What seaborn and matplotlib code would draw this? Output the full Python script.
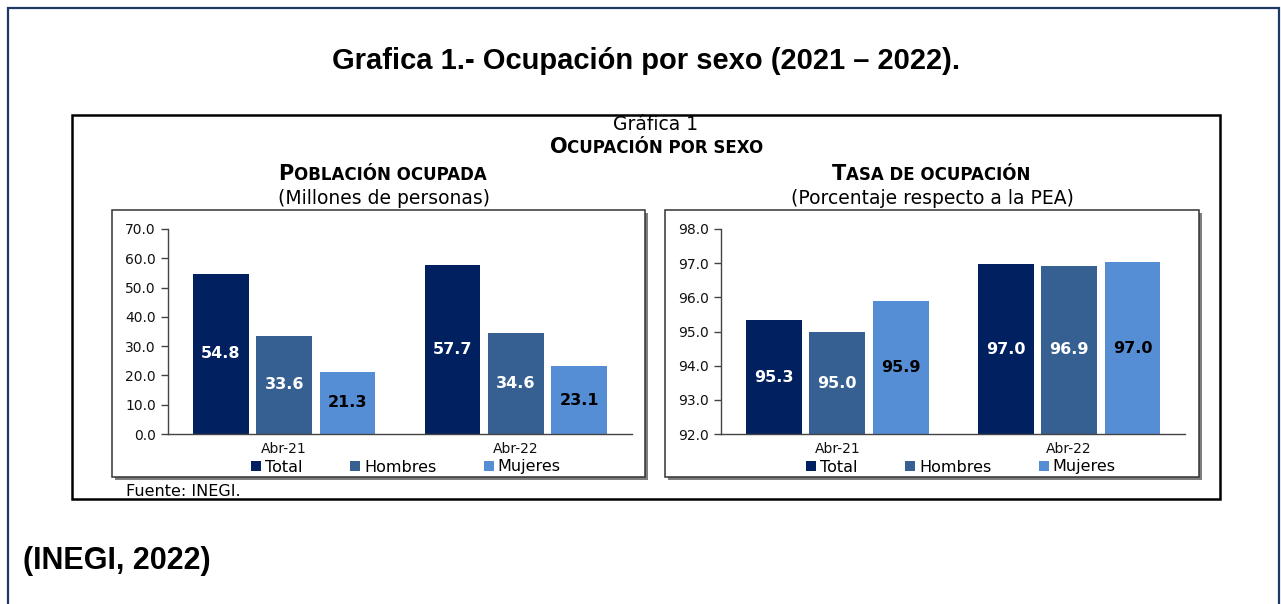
import pandas as pd
import matplotlib.pyplot as plt
import seaborn as sns
from matplotlib.patches import Rectangle

# Data
periods = ["Abr-21", "Abr-22"]
series = ["Total", "Hombres", "Mujeres"]

# Población ocupada (millones de personas)
ocupada_total = [54.8, 57.7]
ocupada_hombres = [33.6, 34.6]
ocupada_mujeres = [21.3, 23.1]

# Tasa de ocupación (% de la PEA)
tasa_total = [95.33, 96.97]
tasa_hombres = [94.98, 96.93]
tasa_mujeres = [95.88, 97.03]

colors = ["#002060", "#376092", "#558ED5"]
label_colors = ["white", "white", "black"]

W, H = 1281, 604

sns.set_style("white")
plt.rcParams["font.family"] = ["DejaVu Sans"]
plt.rcParams["text.color"] = "black"

fig = plt.figure(figsize=(W / 100, H / 100), dpi=100)
fig.patch.set_facecolor("white")


def px_box(x0, y0, x1, y1):
    return [x0 / W, 1 - y1 / H, (x1 - x0) / W, (y1 - y0) / H]


def to_long(vals):
    rows = []
    for name, v in zip(series, vals):
        for p, val in zip(periods, v):
            rows.append({"Periodo": p, "Serie": name, "Valor": val})
    return pd.DataFrame(rows)


def small_caps(xc, y_base, first, rest, big, small):
    t1 = fig.text(0, 1 - y_base / H, first, fontsize=big, fontweight="bold",
                  va="baseline", ha="left", color="black")
    t2 = fig.text(0, 1 - y_base / H, rest, fontsize=small, fontweight="bold",
                  va="baseline", ha="left", color="black")
    r = fig.canvas.get_renderer()
    w1 = t1.get_window_extent(r).width
    w2 = t2.get_window_extent(r).width
    left = xc - (w1 + w2) / 2
    t1.set_x(left / W)
    t2.set_x((left + w1) / W)


def draw_panel(ax, df, ylim, step, legend_x):
    sns.barplot(data=df, x="Periodo", y="Valor", hue="Serie", palette=colors,
                width=0.82, gap=0.12, ax=ax, edgecolor="none", saturation=1)
    handles, labels = ax.get_legend_handles_labels()
    if ax.get_legend() is not None:
        ax.get_legend().remove()
    ax.set_ylim(*ylim)
    ax.set_xlim(-0.5, 1.5)
    yt = [ylim[0] + i * step for i in range(int(round((ylim[1] - ylim[0]) / step)) + 1)]
    ax.set_yticks(yt)
    ax.set_yticklabels([f"{v:.1f}" for v in yt])
    ax.set_xticks([0, 1])
    ax.set_xticks([-0.5, 0.5, 1.5], minor=True)
    ax.set_xlabel("")
    ax.set_ylabel("")
    ax.tick_params(axis="x", which="major", length=0, pad=6, labelsize=10, labelcolor="#111111")
    ax.tick_params(axis="x", which="minor", length=8, direction="inout", width=1.2, color="#444444")
    ax.tick_params(axis="y", length=5, direction="out", width=1, color="#444444",
                   pad=4, labelsize=10, labelcolor="#111111", left=True)
    for s in ["top", "right"]:
        ax.spines[s].set_visible(False)
    for s in ["left", "bottom"]:
        ax.spines[s].set_color("#444444")
        ax.spines[s].set_linewidth(1.0)

    lo = ylim[0]
    for container, c in zip(ax.containers, label_colors):
        for bar in container:
            h = bar.get_height()
            ax.text(bar.get_x() + bar.get_width() / 2, (lo + h) / 2, f"{h:.1f}",
                    ha="center", va="center", color=c, fontsize=11.5, fontweight="bold")

    fig.legend(handles, labels, loc="center", bbox_to_anchor=(legend_x / W, 1 - 467 / H),
               ncol=3, frameon=False, fontsize=11.5, handlelength=0.6, handleheight=0.6,
               handletextpad=0.25, columnspacing=3.0, borderpad=0, labelcolor="black")


# frames
fig.patches.append(Rectangle((8 / W, -0.1), (1279 - 8) / W, 1.1 - 8 / H, transform=fig.transFigure,
                             fill=False, edgecolor="#1F3864", linewidth=1.6, zorder=-2))
fig.patches.append(Rectangle((72 / W, 1 - 499 / H), (1220 - 72) / W, (499 - 115) / H,
                             transform=fig.transFigure, fill=False, edgecolor="black",
                             linewidth=1.8, zorder=-2))
for x0, x1 in [(112, 645), (665, 1199)]:
    fig.patches.append(Rectangle(((x0 + 3) / W, 1 - (477 + 3) / H), (x1 - x0) / W, (477 - 210) / H,
                                 transform=fig.transFigure, facecolor="#7f7f7f",
                                 edgecolor="none", zorder=-1.5))
    fig.patches.append(Rectangle((x0 / W, 1 - 477 / H), (x1 - x0) / W, (477 - 210) / H,
                                 transform=fig.transFigure, facecolor="white",
                                 edgecolor="#333333", linewidth=1.1, zorder=-1))

ax1 = fig.add_axes(px_box(168.3, 229, 631.7, 434))
ax2 = fig.add_axes(px_box(721.4, 229, 1185, 434))
ax1.patch.set_alpha(0)
ax2.patch.set_alpha(0)

draw_panel(ax1, to_long([ocupada_total, ocupada_hombres, ocupada_mujeres]), (0, 70), 10, 406)
draw_panel(ax2, to_long([tasa_total, tasa_hombres, tasa_mujeres]), (92, 98), 1, 961)

# titles
fig.text(646 / W, 1 - 69 / H, "Grafica 1.- Ocupación por sexo (2021 – 2022).",
         family="Liberation Sans", fontsize=21, fontweight="bold", ha="center", va="baseline",
         color="black")
fig.text(23 / W, 1 - 569 / H, "(INEGI, 2022)", family="Liberation Sans", fontsize=22,
         fontweight="bold", ha="left", va="baseline", color="black")

fig.text(656 / W, 1 - 130.5 / H, "Gráfica 1", fontsize=13.5, ha="center", va="baseline")
small_caps(656.5, 153, "O", "CUPACIÓN POR SEXO", 15, 12)
small_caps(382.3, 180.5, "P", "OBLACIÓN OCUPADA", 15, 12)
small_caps(931, 180.5, "T", "ASA DE OCUPACIÓN", 15, 12)
fig.text(383.5 / W, 1 - 204 / H, "(Millones de personas)", fontsize=13.5, ha="center",
         va="baseline")
fig.text(932 / W, 1 - 204 / H, "(Porcentaje respecto a la PEA)", fontsize=13.5, ha="center",
         va="baseline")
fig.text(126.5 / W, 1 - 495.5 / H, "Fuente: INEGI.", fontsize=11.5, ha="left", va="baseline")

fig.savefig("out.png", dpi=100, facecolor="white")
